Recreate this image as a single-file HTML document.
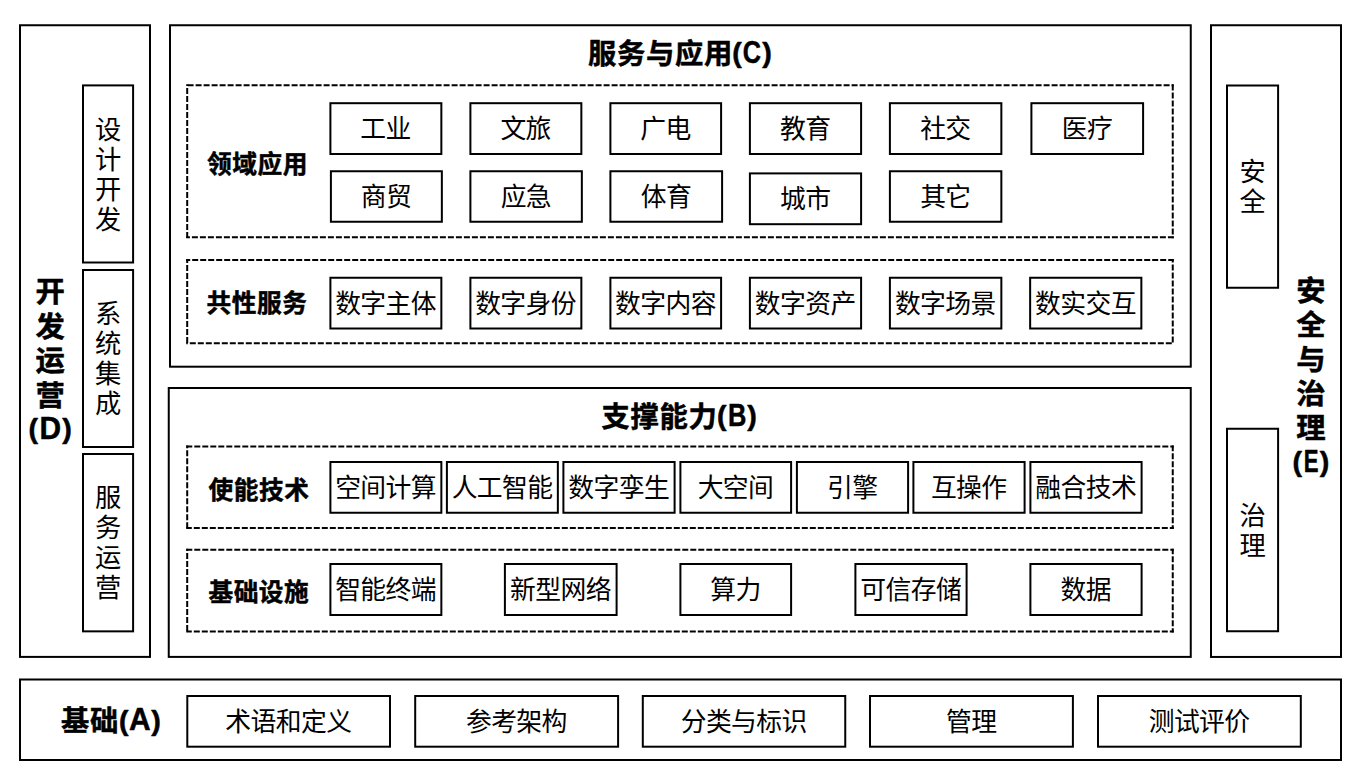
<!DOCTYPE html>
<html lang="zh-CN">
<head>
<meta charset="utf-8">
<title>标准体系结构图</title>
<style>
html,body{margin:0;padding:0;background:#fff;}
body{width:1360px;height:784px;overflow:hidden;}
svg{display:block;position:absolute;left:0;top:0;}
rect{fill:none;stroke:#000;stroke-width:2;}
line{fill:none;stroke:#000;stroke-width:2;stroke-dasharray:6 2;}
text{font-family:"Liberation Sans", "Noto Sans CJK SC", sans-serif;fill:#000;text-anchor:middle;}
text.r{font-weight:400;}
text.b{font-weight:700;stroke:#000;stroke-width:0.5px;stroke-linejoin:round;}
text.s{text-anchor:start;}
</style>
</head>
<body>
<svg width="1360" height="784" viewBox="0 0 1360 784">
<rect x="0" y="0" width="1360" height="784" style="fill:#fff;stroke:none"/>
<g id="frames">
<rect x="20" y="25.25" width="130" height="631.65"/>
<rect x="170" y="25.25" width="1020.75" height="341.45"/>
<rect x="168.75" y="388" width="1022" height="268.9"/>
<rect x="1211" y="25.25" width="130" height="631.7"/>
<rect x="20" y="679.5" width="1321" height="80.5"/>
<rect x="83" y="85.4" width="50.1" height="177.1"/>
<rect x="83" y="270" width="50.1" height="177"/>
<rect x="83" y="454" width="50.1" height="177.35"/>
<rect x="1227" y="85.5" width="51.1" height="202.25"/>
<rect x="1227" y="428.75" width="51.1" height="202.5"/>
<rect x="330.4" y="103.2" width="110.95" height="50.8"/>
<rect x="470.4" y="103.2" width="110.95" height="50.8"/>
<rect x="610.4" y="103.2" width="110.7" height="50.8"/>
<rect x="749.9" y="103.2" width="111.2" height="50.8"/>
<rect x="889.9" y="103.2" width="111.45" height="50.8"/>
<rect x="1031.4" y="103.2" width="111.7" height="50.8"/>
<rect x="330.9" y="171.25" width="110.95" height="50.5"/>
<rect x="470.4" y="171.25" width="111.45" height="50.5"/>
<rect x="610.4" y="171.25" width="111.7" height="50.5"/>
<rect x="749.9" y="173.4" width="111.2" height="50.8"/>
<rect x="889.9" y="171.25" width="111.45" height="50.5"/>
<rect x="330.4" y="277.75" width="110.95" height="50.75"/>
<rect x="470.4" y="277.75" width="110.95" height="50.75"/>
<rect x="610.4" y="277.75" width="110.7" height="50.75"/>
<rect x="749.9" y="277.75" width="111.2" height="50.75"/>
<rect x="889.9" y="277.75" width="111.45" height="50.75"/>
<rect x="1030.15" y="277.75" width="111.2" height="50.75"/>
<rect x="330.4" y="462" width="110.95" height="50.75"/>
<rect x="446.9" y="462" width="110.95" height="50.75"/>
<rect x="563.4" y="462" width="111.2" height="50.75"/>
<rect x="680.4" y="462" width="110.7" height="50.75"/>
<rect x="796.9" y="462" width="111.2" height="50.75"/>
<rect x="913.4" y="462" width="111.2" height="50.75"/>
<rect x="1030.4" y="462" width="111.2" height="50.75"/>
<rect x="330.4" y="564" width="110.95" height="51"/>
<rect x="504.9" y="564" width="111.7" height="51"/>
<rect x="680.4" y="564" width="110.7" height="51"/>
<rect x="855.4" y="564" width="111.2" height="51"/>
<rect x="1030.4" y="564" width="111.2" height="51"/>
<rect x="187.3" y="696" width="202.7" height="50.7"/>
<rect x="415.2" y="696" width="202.9" height="50.7"/>
<rect x="642.8" y="696" width="202.45" height="50.7"/>
<rect x="870" y="696" width="202.9" height="50.7"/>
<rect x="1098" y="696" width="202.8" height="50.7"/>
<line x1="186.2" y1="85.3" x2="1173.75" y2="85.3" stroke-dashoffset="6.6"/>
<line x1="1172.75" y1="84.3" x2="1172.75" y2="238.25" stroke-dashoffset="7.9"/>
<line x1="186.2" y1="237.25" x2="1173.75" y2="237.25" stroke-dashoffset="2.3"/>
<line x1="187.2" y1="84.3" x2="187.2" y2="238.25" stroke-dashoffset="4.4"/>
<line x1="186.2" y1="260" x2="1173.75" y2="260" stroke-dashoffset="2"/>
<line x1="1172.75" y1="259" x2="1172.75" y2="344.2" stroke-dashoffset="2.4"/>
<line x1="186.2" y1="343.2" x2="1173.75" y2="343.2" stroke-dashoffset="4.4"/>
<line x1="187.2" y1="259" x2="187.2" y2="344.2" stroke-dashoffset="2"/>
<line x1="186.2" y1="446.5" x2="1173.75" y2="446.5" stroke-dashoffset="7.9"/>
<line x1="1172.75" y1="445.5" x2="1172.75" y2="528.9" stroke-dashoffset="0.3"/>
<line x1="186.2" y1="527.9" x2="1173.75" y2="527.9" stroke-dashoffset="0.4"/>
<line x1="187.2" y1="445.5" x2="187.2" y2="528.9" stroke-dashoffset="3.2"/>
<line x1="186.2" y1="549.8" x2="1173.75" y2="549.8" stroke-dashoffset="7.9"/>
<line x1="1172.75" y1="548.8" x2="1172.75" y2="632.4" stroke-dashoffset="0.5"/>
<line x1="186.2" y1="631.4" x2="1173.75" y2="631.4" stroke-dashoffset="0.4"/>
<line x1="187.2" y1="548.8" x2="187.2" y2="632.4" stroke-dashoffset="3.8"/>
</g>
<g id="labels">
<text class="r" font-size="26.3"><tspan x="108.05" y="138.73">设</tspan><tspan x="108.05" y="168.73">计</tspan><tspan x="108.05" y="198.73">开</tspan><tspan x="108.05" y="228.73">发</tspan></text>
<text class="r" font-size="26.3"><tspan x="108.05" y="323.28">系</tspan><tspan x="108.05" y="353.28">统</tspan><tspan x="108.05" y="383.28">集</tspan><tspan x="108.05" y="413.28">成</tspan></text>
<text class="r" font-size="26.3"><tspan x="108.05" y="507.46">服</tspan><tspan x="108.05" y="537.46">务</tspan><tspan x="108.05" y="567.46">运</tspan><tspan x="108.05" y="597.46">营</tspan></text>
<text class="r" font-size="26.3"><tspan x="1252.55" y="181.41">安</tspan><tspan x="1252.55" y="211.41">全</tspan></text>
<text class="r" font-size="26.3"><tspan x="1252.55" y="524.78">治</tspan><tspan x="1252.55" y="554.78">理</tspan></text>
<text class="b" font-size="28.5"><tspan x="50.3" y="302" textLength="29.36" lengthAdjust="spacingAndGlyphs">开</tspan><tspan x="50.3" y="337" textLength="29.36" lengthAdjust="spacingAndGlyphs">发</tspan><tspan x="50.3" y="371" textLength="29.36" lengthAdjust="spacingAndGlyphs">运</tspan><tspan x="50.3" y="406" textLength="29.36" lengthAdjust="spacingAndGlyphs">营</tspan><tspan x="28.53" y="438" font-size="28" text-anchor="start" textLength="9.49" lengthAdjust="spacingAndGlyphs">(</tspan><tspan x="39.39" y="439" font-size="31.2" text-anchor="start" textLength="21.59" lengthAdjust="spacingAndGlyphs">D</tspan><tspan x="62.24" y="438" font-size="28" text-anchor="start" textLength="9.54" lengthAdjust="spacingAndGlyphs">)</tspan></text>
<text class="b" font-size="28.5"><tspan x="1311" y="301" textLength="29.36" lengthAdjust="spacingAndGlyphs">安</tspan><tspan x="1311" y="335" textLength="29.36" lengthAdjust="spacingAndGlyphs">全</tspan><tspan x="1311" y="370" textLength="29.36" lengthAdjust="spacingAndGlyphs">与</tspan><tspan x="1311" y="404" textLength="29.36" lengthAdjust="spacingAndGlyphs">治</tspan><tspan x="1311" y="438" textLength="29.36" lengthAdjust="spacingAndGlyphs">理</tspan><tspan x="1292.58" y="471" font-size="28" text-anchor="start" textLength="9.49" lengthAdjust="spacingAndGlyphs">(</tspan><tspan x="1303.79" y="472" font-size="31.2" text-anchor="start" textLength="14.8" lengthAdjust="spacingAndGlyphs">E</tspan><tspan x="1319.84" y="471" font-size="28" text-anchor="start" textLength="9.54" lengthAdjust="spacingAndGlyphs">)</tspan></text>
<text class="b s" font-size="28.3"><tspan x="588.1" y="63.9" letter-spacing="0.7">服务与应用</tspan><tspan x="732.18" y="62" font-size="28" textLength="9.49" lengthAdjust="spacingAndGlyphs">(</tspan><tspan x="742.7" y="63" font-size="31.2" textLength="18.19" lengthAdjust="spacingAndGlyphs">C</tspan><tspan x="762.19" y="62" font-size="28" textLength="9.54" lengthAdjust="spacingAndGlyphs">)</tspan></text>
<text class="b s" font-size="28.3"><tspan x="601.6" y="426.7" letter-spacing="0.7">支撑能力</tspan><tspan x="717.03" y="425" font-size="28" textLength="9.49" lengthAdjust="spacingAndGlyphs">(</tspan><tspan x="727.95" y="426" font-size="31.2" textLength="18.36" lengthAdjust="spacingAndGlyphs">B</tspan><tspan x="747.29" y="425" font-size="28" textLength="9.54" lengthAdjust="spacingAndGlyphs">)</tspan></text>
<text class="b s" font-size="28.3"><tspan x="60.9" y="730.9" letter-spacing="0.7">基础</tspan><tspan x="118.93" y="730" font-size="28" textLength="9.49" lengthAdjust="spacingAndGlyphs">(</tspan><tspan x="129" y="730" font-size="31.2" textLength="21.65" lengthAdjust="spacingAndGlyphs">A</tspan><tspan x="151.24" y="730" font-size="28" textLength="9.54" lengthAdjust="spacingAndGlyphs">)</tspan></text>
<text class="b" font-size="24.7" letter-spacing="0.55" x="257.47" y="172.59">领域应用</text>
<text class="b" font-size="24.7" letter-spacing="0.55" x="257.07" y="312.09">共性服务</text>
<text class="b" font-size="24.7" letter-spacing="0.55" x="258.97" y="498.99">使能技术</text>
<text class="b" font-size="24.7" letter-spacing="0.55" x="258.88" y="600.99">基础设施</text>
<text class="r" font-size="25.8" letter-spacing="-0.6" x="385.57" y="138.3">工业</text>
<text class="r" font-size="25.8" letter-spacing="-0.6" x="525.58" y="138.3">文旅</text>
<text class="r" font-size="25.8" letter-spacing="-0.6" x="665.45" y="138.3">广电</text>
<text class="r" font-size="25.8" letter-spacing="-0.6" x="805.2" y="138.3">教育</text>
<text class="r" font-size="25.8" letter-spacing="-0.6" x="945.33" y="138.3">社交</text>
<text class="r" font-size="25.8" letter-spacing="-0.6" x="1086.95" y="138.3">医疗</text>
<text class="r" font-size="25.8" letter-spacing="-0.6" x="386.07" y="206.3">商贸</text>
<text class="r" font-size="25.8" letter-spacing="-0.6" x="525.83" y="206.3">应急</text>
<text class="r" font-size="25.8" letter-spacing="-0.6" x="665.95" y="206.3">体育</text>
<text class="r" font-size="25.8" letter-spacing="-0.6" x="805.2" y="208.2">城市</text>
<text class="r" font-size="25.8" letter-spacing="-0.6" x="945.33" y="206.3">其它</text>
<text class="r" font-size="25.8" letter-spacing="-0.6" x="385.57" y="312.9">数字主体</text>
<text class="r" font-size="25.8" letter-spacing="-0.6" x="525.58" y="312.9">数字身份</text>
<text class="r" font-size="25.8" letter-spacing="-0.6" x="665.45" y="312.9">数字内容</text>
<text class="r" font-size="25.8" letter-spacing="-0.6" x="805.2" y="312.9">数字资产</text>
<text class="r" font-size="25.8" letter-spacing="-0.6" x="945.33" y="312.9">数字场景</text>
<text class="r" font-size="25.8" letter-spacing="-0.6" x="1085.45" y="312.9">数实交互</text>
<text class="r" font-size="25.8" letter-spacing="-0.6" x="385.57" y="497.2">空间计算</text>
<text class="r" font-size="25.8" letter-spacing="-0.6" x="502.07" y="497.2">人工智能</text>
<text class="r" font-size="25.8" letter-spacing="-0.6" x="618.7" y="497.2">数字孪生</text>
<text class="r" font-size="25.8" letter-spacing="-0.6" x="735.45" y="497.2">大空间</text>
<text class="r" font-size="25.8" letter-spacing="-0.6" x="852.2" y="497.2">引擎</text>
<text class="r" font-size="25.8" letter-spacing="-0.6" x="968.7" y="497.2">互操作</text>
<text class="r" font-size="25.8" letter-spacing="-0.6" x="1085.7" y="497.2">融合技术</text>
<text class="r" font-size="25.8" letter-spacing="-0.6" x="385.57" y="599">智能终端</text>
<text class="r" font-size="25.8" letter-spacing="-0.6" x="560.45" y="599">新型网络</text>
<text class="r" font-size="25.8" letter-spacing="-0.6" x="735.45" y="599">算力</text>
<text class="r" font-size="25.8" letter-spacing="-0.6" x="910.7" y="599">可信存储</text>
<text class="r" font-size="25.8" letter-spacing="-0.6" x="1085.7" y="599">数据</text>
<text class="r" font-size="25.8" letter-spacing="-0.6" x="288.35" y="731">术语和定义</text>
<text class="r" font-size="25.8" letter-spacing="-0.6" x="516.35" y="731">参考架构</text>
<text class="r" font-size="25.8" letter-spacing="-0.6" x="743.73" y="731">分类与标识</text>
<text class="r" font-size="25.8" letter-spacing="-0.6" x="971.15" y="731">管理</text>
<text class="r" font-size="25.8" letter-spacing="-0.6" x="1199.1" y="731">测试评价</text>
</g>
</svg>
</body>
</html>
